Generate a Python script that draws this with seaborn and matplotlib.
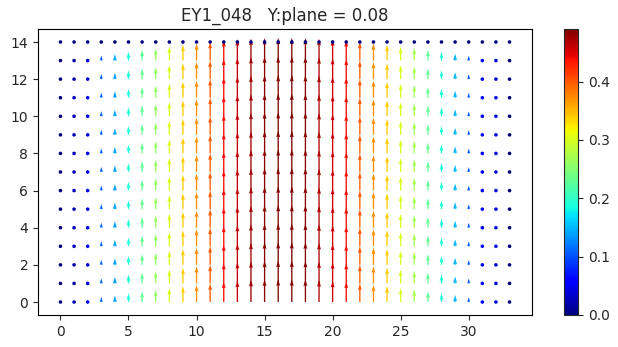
import numpy as np
import pandas as pd
import matplotlib
matplotlib.use("Agg")
import matplotlib.pyplot as plt
import seaborn as sns

# Grid of sample points
x_positions = list(range(34))
y_positions = list(range(15))

# Vertical velocity profile across x (same for every row)
column_speed = [0.00, 0.022, 0.044, 0.11, 0.14, 0.19, 0.23, 0.26, 0.30, 0.34,
                0.37, 0.40, 0.44, 0.46, 0.475, 0.485, 0.49, 0.49, 0.485, 0.47,
                0.455, 0.44, 0.40, 0.37, 0.34, 0.30, 0.27, 0.23, 0.19, 0.15,
                0.105, 0.055, 0.04, 0.00]
# Row weighting: the top boundary row is at rest
row_factor = [1, 1, 1, 1, 1, 1, 1, 1, 1, 1, 1, 1, 1, 1, 0]

title_text = "EY1_048   Y:plane = 0.08"
cbar_ticks = [0.0, 0.1, 0.2, 0.3, 0.4]

records = []
for yi, fy in zip(y_positions, row_factor):
    for xi, sp in zip(x_positions, column_speed):
        records.append({"x": xi, "y": yi, "u": 0.0, "v": sp * fy})
df = pd.DataFrame(records)
df["mag"] = np.hypot(df["u"], df["v"])

sns.set_style("ticks")
cmap = matplotlib.colormaps["jet"]

fig = plt.figure(figsize=(6.18, 3.47), dpi=100)
ax = fig.add_axes([38 / 618, 32 / 347, 494 / 618, 286 / 347])
cax = fig.add_axes([564 / 618, 32 / 347, 14 / 618, 286 / 347])

q = ax.quiver(df["x"], df["y"], df["u"], df["v"], df["mag"], cmap=cmap,
              minlength=3)
ax.set_title(title_text, fontsize=12)
ax.set_xticks([0, 5, 10, 15, 20, 25, 30])
ax.set_yticks([0, 2, 4, 6, 8, 10, 12, 14])
for side in ax.spines.values():
    side.set_visible(True)
    side.set_color("black")
    side.set_linewidth(0.8)

cb = fig.colorbar(q, cax=cax)
cb.set_ticks(cbar_ticks)
cb.outline.set_linewidth(0.8)

fig.savefig("out.png", dpi=100)
